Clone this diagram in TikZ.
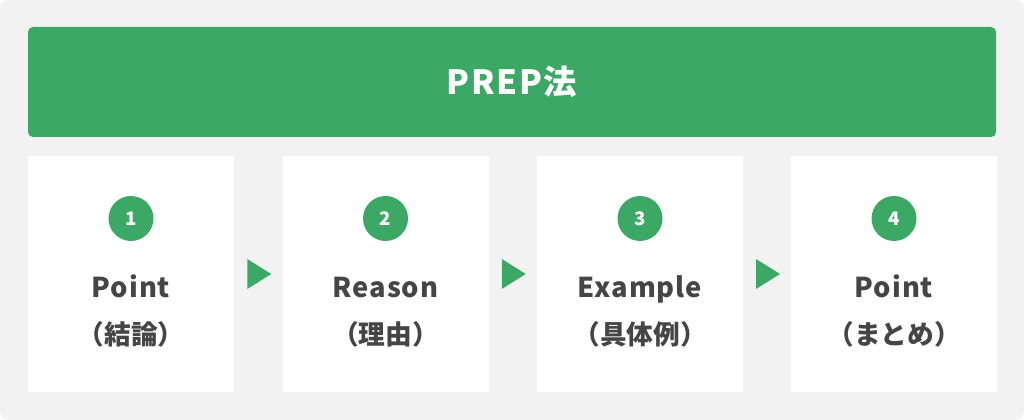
\documentclass[tikz,border=0pt]{standalone}
\usepackage{fontspec}
\setmainfont{Noto Sans CJK JP}
\usetikzlibrary{calc}
\definecolor{pgreen}{HTML}{3BA965}
\definecolor{pbg}{HTML}{F2F2F2}
\definecolor{ptext}{HTML}{454545}
\tikzset{
  panel/.style={fill=white, draw=none, minimum width=206*0.75pt, minimum height=236*0.75pt, inner sep=0pt},
  numdot/.style={circle, fill=pgreen, text=white, minimum size=45*0.75pt, inner sep=0pt, font=\fontsize{14pt}{15pt}\selectfont\bfseries},
  title/.style={anchor=base, inner sep=0pt, text=ptext, font=\fontsize{20.5pt}{22pt}\selectfont\bfseries\addfontfeatures{LetterSpace=3.5}},
  jtitle/.style={anchor=base, inner sep=0pt, text=ptext, font=\fontsize{20pt}{22pt}\selectfont\bfseries},
  arrowtri/.style={fill=pgreen, draw=none},
}
\begin{document}
\begin{tikzpicture}[x=0.75pt, y=-0.75pt]
\useasboundingbox (0,0) rectangle (1024,420);
\fill[white] (0,0) rectangle (1024,420);
\fill[pbg, rounded corners=8*0.75pt] (0,0) rectangle (1024,420);
\node[fill=pgreen, rounded corners=5*0.75pt, minimum width=968*0.75pt, minimum height=110*0.75pt, inner sep=0pt] (head) at (512,82) {};
\node[anchor=base, inner sep=0pt, text=white, font=\fontsize{25pt}{27pt}\selectfont\bfseries\addfontfeatures{LetterSpace=5}] (headtxt) at (512,95) {PREP法};
\foreach \i/\cx/\en/\jp in {1/131/Point/（結論）, 2/385.5/Reason/（理由）, 3/640/Example/（具体例）, 4/894/Point/（まとめ）}{
  \node[panel] (box\i) at (\cx,274) {};
  \node[numdot] (num\i) at (\cx,218.5) {\i};
  \node[title] (en\i) at (\cx,297) {\en};
  \node[jtitle] (jp\i) at (\cx,344) {\jp};
}
\foreach \a/\b in {1/2, 2/3, 3/4}{
  \coordinate (m\a) at ($(box\a.east)!0.5!(box\b.west)$);
  \fill[arrowtri] ($(m\a)+(-11,-15)$) -- ($(m\a)+(13,0)$) -- ($(m\a)+(-11,15)$) -- cycle;
}
\end{tikzpicture}
\end{document}
